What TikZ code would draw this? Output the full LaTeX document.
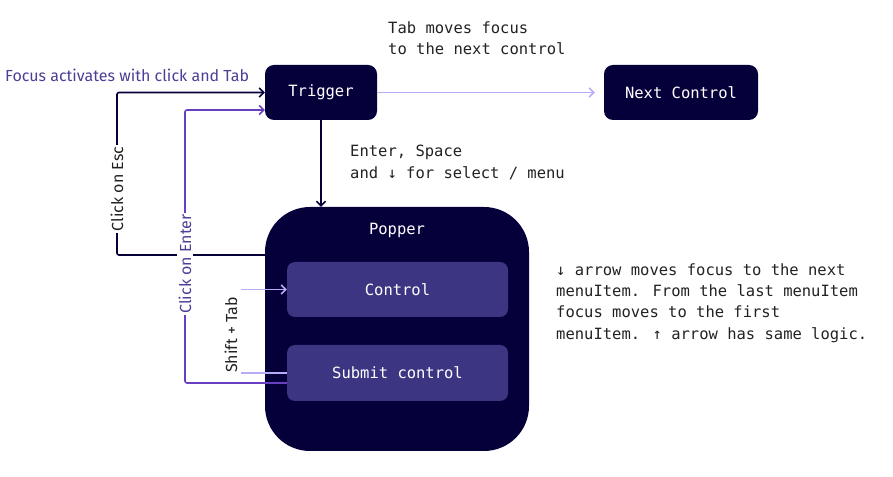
\documentclass[tikz,border=0pt]{standalone}
\usepackage{fontspec}
\setmainfont{Fira Sans}
\newfontfamily\monof{DejaVu Sans Mono}
\usetikzlibrary{arrows.meta}
\definecolor{navy}{HTML}{05003A}
\definecolor{ctrl}{HTML}{3C3582}
\definecolor{lav}{HTML}{B8ACF6}
\definecolor{purp}{HTML}{6A3EC0}
\definecolor{labpurp}{HTML}{4B3F96}
\definecolor{txt}{HTML}{222222}
\tikzset{
  darkbox/.style={draw=none, fill=navy, rounded corners=9pt, text=white, font=\monof\fontsize{15.5}{18}\selectfont, inner sep=0pt},
  ctrlbox/.style={draw=none, fill=ctrl, rounded corners=8pt, text=white, font=\monof\fontsize{15.5}{18}\selectfont, inner sep=0pt, minimum width=221pt},
  monotext/.style={font=\monof\fontsize{15.5}{21.3}\selectfont, text=txt, align=left, inner sep=0pt},
  sanslabel/.style={font=\fontsize{16}{18}\selectfont, inner sep=1.5pt, fill=white},
  conn/.style={line width=1.6pt, rounded corners=2pt, -{Straight Barb[length=4.5pt,width=9pt]}},
  plain/.style={line width=1.6pt, rounded corners=2pt},
}
\begin{document}
\begin{tikzpicture}[x=1pt,y=1pt]
\useasboundingbox (0,0) rectangle (893,476);
% boxes
\node[darkbox, minimum width=112pt, minimum height=55pt] (trigger) at (321,383.5) {Trigger};
\node[darkbox, minimum width=154pt, minimum height=55pt] (next) at (681,383.5) {Next Control};
\node[darkbox, rounded corners=45pt, minimum width=264pt, minimum height=244pt] (popper) at (397,147) {};
\node[text=white, font=\monof\fontsize{15.5}{18}\selectfont] (popperlabel) at (397,246) {Popper};
\node[ctrlbox, minimum height=55pt] (control) at (397.5,186.5) {Control};
\node[ctrlbox, minimum height=56pt] (submit) at (397.5,103) {Submit control};
% texts
\node[monotext, anchor=west] (tabtext) at (388,438) {Tab moves focus\\to the next control};
\node[monotext, anchor=west] (entertext) at (350,313.5) {Enter, Space\\and ↓ for select / menu};
\node[monotext, anchor=west] (righttext) at (556,173) {↓ arrow moves focus to the next\\menuItem. From the last menuItem\\focus moves to the first\\menuItem. ↑ arrow has same logic.};
\node[font=\fontsize{16}{18}\selectfont, text=labpurp, anchor=west, inner sep=0pt] (focustext) at (5,401) {Focus activates with click and Tab};
% connectors
\draw[conn, lav, shorten >=9pt] (trigger.east) -- (next.west);
\draw[conn, navy] (trigger.south) -- (trigger.south |- popper.north);
\coordinate (escstart) at (265,221);
\draw[conn, navy] (escstart) -- (117,221) |- (trigger.west);
\node[sanslabel, rotate=90, text=txt] (esclabel) at (117,287) {Click on Esc};
\draw[conn, purp] ([yshift=-10pt]submit.west) -- (185,93) |- ([yshift=-17.5pt]trigger.west);
\node[sanslabel, rotate=90, text=labpurp] (enterlabel) at (185,212) {Click on Enter};
\coordinate (stA) at (241,186.5);
\coordinate (stB) at (241,103);
\draw[conn, lav] (stA) -- (control.west);
\draw[plain, lav] (stB) -- (submit.west);
\node[sanslabel, rotate=90, text=txt, fill=none] (stlabel) at (231,141) {Shift + Tab};
\end{tikzpicture}
\end{document}
